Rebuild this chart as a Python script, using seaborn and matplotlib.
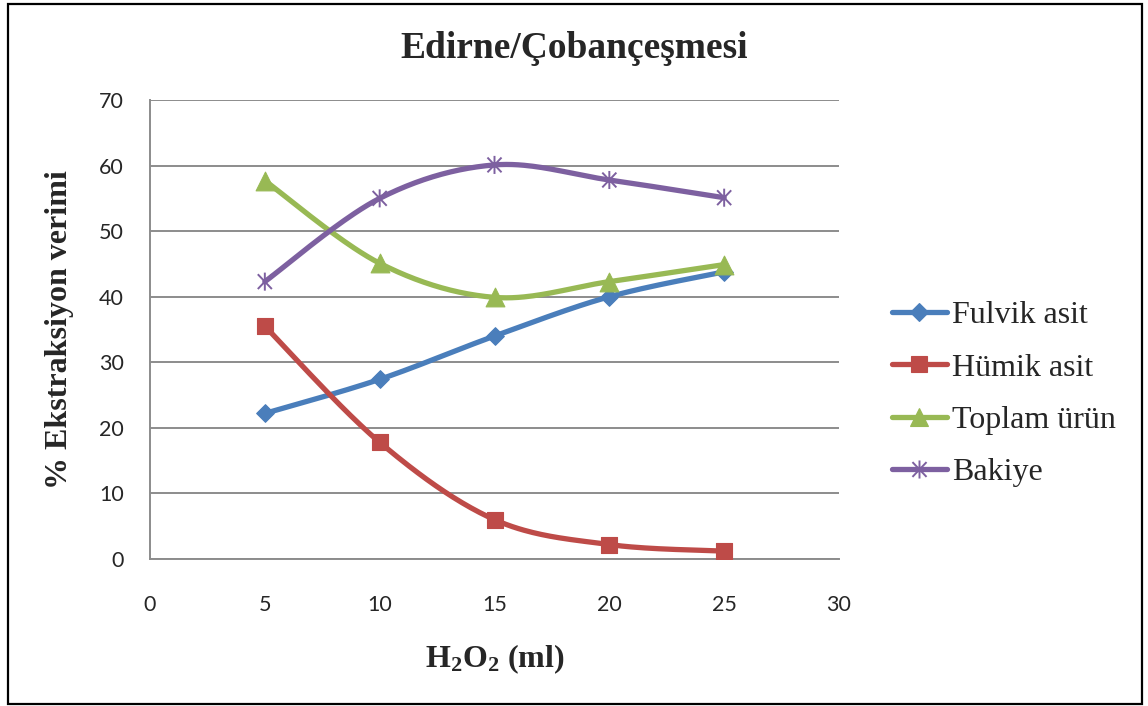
import numpy as np
import pandas as pd
import matplotlib
matplotlib.use("Agg")
import matplotlib.pyplot as plt
from matplotlib.lines import Line2D
from matplotlib.path import Path
from matplotlib.patches import Rectangle
import seaborn as sns

# --- data -------------------------------------------------------------
h2o2_ml = [5, 10, 15, 20, 25]
fulvik_asit = [22.2, 27.4, 34.0, 40.0, 43.8]
humik_asit = [35.5, 17.8, 6.0, 2.2, 1.2]
toplam_urun = [57.7, 45.1, 39.9, 42.3, 44.9]
bakiye = [42.3, 55.0, 60.1, 57.8, 55.1]

series_names = ["Fulvik asit", "Hümik asit", "Toplam ürün", "Bakiye"]
x_ticks = [0, 5, 10, 15, 20, 25, 30]
y_ticks = [0, 10, 20, 30, 40, 50, 60, 70]

title_text = "Edirne/Çobançeşmesi"
y_label = "% Ekstraksiyon verimi"
x_label = r"$\mathbf{H_2O_2}$ (ml)"

# --- styling ----------------------------------------------------------
sns.set_theme(style="white")
plt.rcParams["font.family"] = ["Liberation Serif", "DejaVu Serif"]
plt.rcParams["mathtext.fontset"] = "custom"
plt.rcParams["mathtext.rm"] = "Liberation Serif"
plt.rcParams["mathtext.bf"] = "Liberation Serif:bold"
plt.rcParams["mathtext.it"] = "Liberation Serif:italic"

colors = ["#4A7EBB", "#BE4B48", "#98B954", "#7D60A0"]

# six-armed asterisk marker (vertical bar + X)
r = 0.5
d = r * 0.78
star_path = Path(
    [(0, -r), (0, r), (-d, -d * 1.05), (d, d * 1.05), (-d, d * 1.05), (d, -d * 1.05)],
    [Path.MOVETO, Path.LINETO, Path.MOVETO, Path.LINETO, Path.MOVETO, Path.LINETO],
)
markers = ["D", "s", "^", star_path]
marker_sizes = [9.0, 11.5, 13.5, 13.0]


def smooth_curve(xs, ys, steps=40):
    """Cardinal-spline smoothing in the spirit of spreadsheet 'smoothed line'."""
    p = np.column_stack([xs, ys]).astype(float)
    n = len(p)
    out = []
    for i in range(n - 1):
        p0 = p[i - 1] if i > 0 else p[i]
        p1 = p[i]
        p2 = p[i + 1]
        p3 = p[i + 2] if i + 2 < n else p[i + 1]
        c1 = p1 + (p2 - p0) / 6.0
        c2 = p2 - (p3 - p1) / 6.0
        t = np.linspace(0, 1, steps)[:, None]
        seg = ((1 - t) ** 3) * p1 + 3 * ((1 - t) ** 2) * t * c1 + 3 * (1 - t) * t ** 2 * c2 + t ** 3 * p2
        out.append(seg if i == 0 else seg[1:])
    return np.vstack(out)


fig = plt.figure(figsize=(11.48, 7.06), dpi=100)
ax = fig.add_axes([150 / 1148, 1 - 559 / 706, (839 - 150) / 1148, (559 - 100) / 706])

all_series = [fulvik_asit, humik_asit, toplam_urun, bakiye]
for i, (name, vals) in enumerate(zip(series_names, all_series)):
    curve = smooth_curve(h2o2_ml, vals)
    df_curve = pd.DataFrame({"x": curve[:, 0], "y": curve[:, 1]})
    sns.lineplot(data=df_curve, x="x", y="y", ax=ax, color=colors[i], lw=3.8,
                 sort=False, estimator=None, zorder=3 + 2 * i, solid_capstyle="round")
    df_pts = pd.DataFrame({"x": h2o2_ml, "y": vals})
    if i == 3:
        sns.scatterplot(data=df_pts, x="x", y="y", ax=ax, marker=markers[i],
                        s=marker_sizes[i] ** 2, facecolor="none", edgecolor=colors[i],
                        color=colors[i], linewidth=1.4, zorder=4 + 2 * i)
    else:
        sns.scatterplot(data=df_pts, x="x", y="y", ax=ax, marker=markers[i],
                        s=marker_sizes[i] ** 2, color=colors[i], edgecolor=colors[i],
                        linewidth=0.8, zorder=4 + 2 * i)

ax.set_xlim(0, 30)
ax.set_ylim(0, 70)
ax.set_xticks(x_ticks)
ax.set_yticks(y_ticks)
ax.set_xticklabels([str(v) for v in x_ticks], family="Lato", fontsize=15.5)
ax.set_yticklabels([str(v) for v in y_ticks], family="Lato", fontsize=15.5)
ax.tick_params(axis="x", length=0, pad=26)
ax.tick_params(axis="y", length=0, pad=19)

ax.yaxis.grid(True, color="#8C8C8C", lw=1.4)
ax.xaxis.grid(False)
ax.set_axisbelow(True)
for side in ["top", "right"]:
    ax.spines[side].set_visible(False)
for side in ["left", "bottom"]:
    ax.spines[side].set_color("#8C8C8C")
    ax.spines[side].set_linewidth(1.4)

ax.set_xlabel(x_label, fontsize=23, fontweight="bold", labelpad=20)
ax.set_ylabel(y_label, fontsize=23, fontweight="bold", labelpad=18)

fig.text(0.5, 1 - 58 / 706, title_text, ha="center", va="baseline",
         fontsize=27, fontweight="bold")

handles = []
for i in range(4):
    handles.append(Line2D([0], [0], color=colors[i], lw=3.8, marker=markers[i],
                          markersize=marker_sizes[i], markerfacecolor=colors[i] if i < 3 else "none",
                          markeredgecolor=colors[i], markeredgewidth=1.4 if i == 3 else 0.8,
                          solid_capstyle="round"))
fig.legend(handles, series_names, loc="center left",
           bbox_to_anchor=(892 / 1148, 1 - 394 / 706), frameon=False,
           prop={"family": "Liberation Serif", "size": 23},
           handlelength=1.72, handletextpad=0.15, labelspacing=0.72, borderaxespad=0,
           borderpad=0)

# outer frame of the chart area
fig.patches.append(Rectangle((8 / 1148, 2 / 706), (1142 - 8) / 1148, (702 - 2) / 706,
                             transform=fig.transFigure, fill=False,
                             edgecolor="black", lw=1.6, zorder=0))

fig.savefig("out.png", dpi=100)
